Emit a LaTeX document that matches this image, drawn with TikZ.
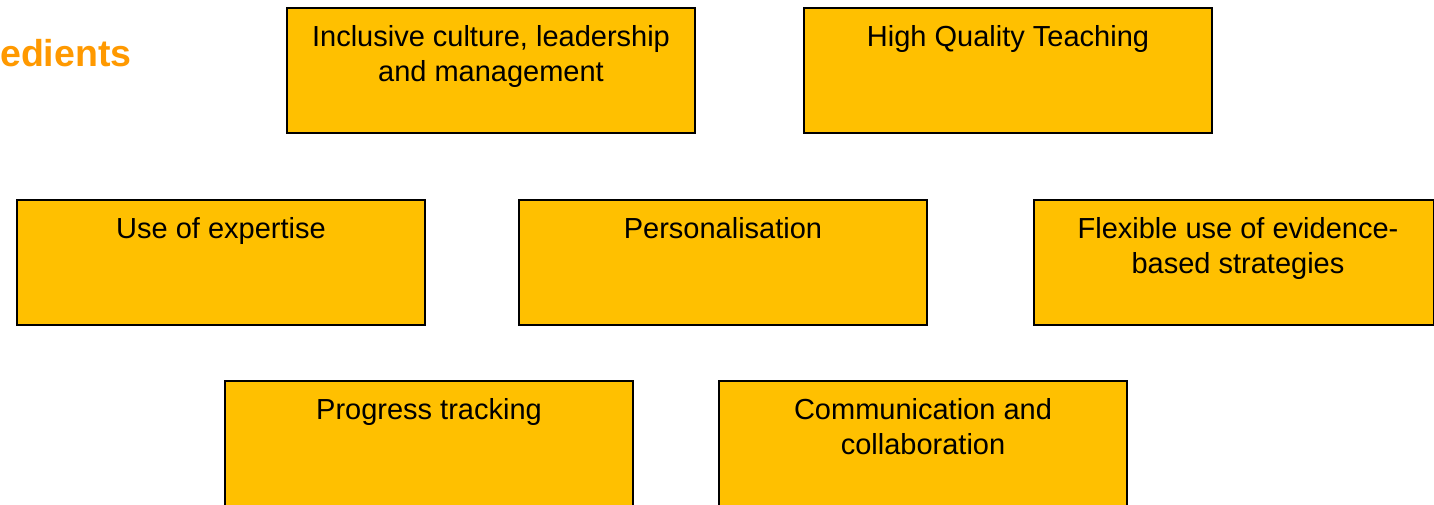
\documentclass[tikz,border=0pt]{standalone}
\usepackage{fontspec}
\setmainfont{Liberation Sans}
\usepackage{xcolor}
\usepackage{tikz}
\usetikzlibrary{positioning}

\definecolor{boxfill}{HTML}{FFC000}
\definecolor{titleorange}{HTML}{FF9900}

\begin{document}
\begin{tikzpicture}[
    x=1pt, y=-1pt,
    ingredient/.style={draw=black, line width=1.2pt, fill=boxfill, minimum width=408pt, minimum height=125pt, inner sep=0pt},
    caption/.style={align=center, inner sep=0pt, font=\fontsize{29}{35}\selectfont}
]

\useasboundingbox (0,0) rectangle (1434,504);
\clip (0,0) rectangle (1434,504);

% title
\node[anchor=base west, inner sep=0pt, text=titleorange, font=\fontsize{37.5}{38}\selectfont\bfseries] (title) at (0,66) {edients};

% top row
\node[ingredient] (culture) at (491,70.5) {};
\node[ingredient] (teaching) at (1008,70.5) {};

% middle row
\node[ingredient] (expertise) at (221,262.5) {};
\node[ingredient] (personal) at (723,262.5) {};
\node[ingredient, minimum width=400pt] (flexible) at (1234,262.5) {};

% bottom row
\node[ingredient] (progress) at (429,443.5) {};
\node[ingredient] (communication) at (923,443.5) {};

% captions
\node[caption, below=18pt of culture.north] (culture-txt) {Inclusive culture, leadership\\and management};
\node[caption, below=18pt of teaching.north] (teaching-txt) {High Quality Teaching};
\node[caption, below=18pt of expertise.north] (expertise-txt) {Use of expertise};
\node[caption, below=18pt of personal.north] (personal-txt) {Personalisation};
\node[caption, below=18pt of flexible.north, xshift=4pt] (flexible-txt) {Flexible use of evidence-\\based strategies};
\node[caption, below=18pt of progress.north] (progress-txt) {Progress tracking};
\node[caption, below=18pt of communication.north] (communication-txt) {Communication and\\collaboration};

\end{tikzpicture}
\end{document}
